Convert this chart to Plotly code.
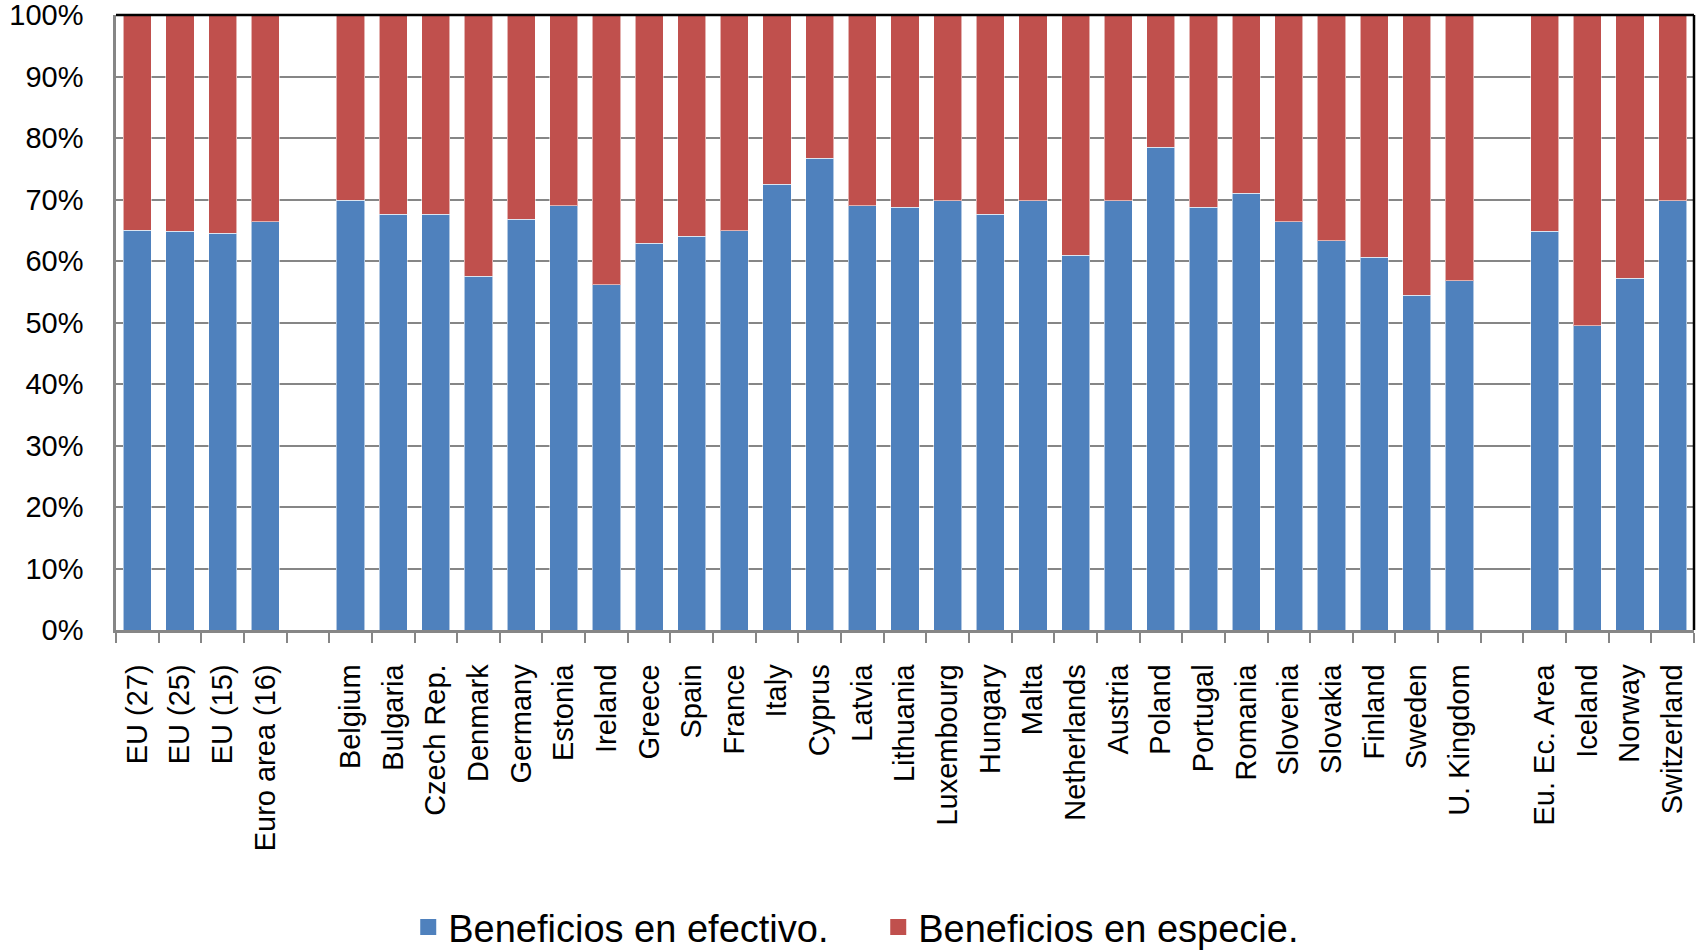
import plotly.graph_objects as go

# Categories (blank entries leave a gap between groups on the axis)
categories = [
    "EU (27)", "EU (25)", "EU (15)", "Euro area (16)", " ",
    "Belgium", "Bulgaria", "Czech Rep.", "Denmark", "Germany", "Estonia",
    "Ireland", "Greece", "Spain", "France", "Italy", "Cyprus", "Latvia",
    "Lithuania", "Luxembourg", "Hungary", "Malta", "Netherlands", "Austria",
    "Poland", "Portugal", "Romania", "Slovenia", "Slovakia", "Finland",
    "Sweden", "U. Kingdom", "  ",
    "Eu. Ec. Area", "Iceland", "Norway", "Switzerland",
]

# Share of cash benefits (%)
efectivo = [
    65.0, 64.8, 64.5, 66.4, None,
    69.9, 67.6, 67.6, 57.5, 66.8, 69.0,
    56.1, 62.9, 64.0, 64.9, 72.5, 76.7, 69.0,
    68.7, 69.8, 67.6, 69.8, 60.9, 69.8,
    78.5, 68.7, 71.0, 66.4, 63.3, 60.6,
    54.4, 56.8, None,
    64.8, 49.5, 57.2, 69.8,
]

# Share of in-kind benefits (%)
especie = [
    35.0, 35.2, 35.5, 33.6, None,
    30.1, 32.4, 32.4, 42.5, 33.2, 31.0,
    43.9, 37.1, 36.0, 35.1, 27.5, 23.3, 31.0,
    31.3, 30.2, 32.4, 30.2, 39.1, 30.2,
    21.5, 31.3, 29.0, 33.6, 36.7, 39.4,
    45.6, 43.2, None,
    35.2, 50.5, 42.8, 30.2,
]

y_ticks = [0, 10, 20, 30, 40, 50, 60, 70, 80, 90, 100]
y_tick_labels = ["0%", "10%", "20%", "30%", "40%", "50%",
                 "60%", "70%", "80%", "90%", "100%"]

series_names = ["Beneficios en efectivo.", "Beneficios en especie."]

BLUE = "#4F81BD"
RED = "#C0504D"
AXIS_GRAY = "#868686"
FONT = "Liberation Sans, Arial, sans-serif"
EDGE = "rgba(255,255,255,0.55)"

fig = go.Figure()
for values, name, color in [(efectivo, series_names[0], BLUE),
                            (especie, series_names[1], RED)]:
    fig.add_trace(go.Bar(
        x=categories, y=values, name=name, showlegend=False,
        marker=dict(color=color, line=dict(color=EDGE, width=1)),
    ))

# Legend entries with larger square keys
for name, color in [(series_names[0], BLUE), (series_names[1], RED)]:
    fig.add_trace(go.Scatter(
        x=[None], y=[None], mode="markers", name=name,
        marker=dict(symbol="square", size=18, color=color),
    ))

fig.update_layout(
    width=1702, height=950,
    margin=dict(l=116, r=8, t=15, b=320),
    barmode="stack", bargap=0.34,
    plot_bgcolor="white", paper_bgcolor="white",
    font=dict(family=FONT, color="black", size=29),
    legend=dict(
        orientation="h", xref="container", yref="container",
        x=0.516, xanchor="center", y=0.024, yanchor="middle",
        font=dict(size=38, family=FONT, color="black"),
        traceorder="normal", itemwidth=30, entrywidth=425,
    ),
    showlegend=True,
)

fig.update_xaxes(
    type="category", categoryorder="array", categoryarray=categories,
    range=[-0.5, len(categories) - 0.5], automargin=False,
    tickson="boundaries", ticks="outside", ticklen=10, tickwidth=2,
    tickcolor=AXIS_GRAY, showline=True, linecolor=AXIS_GRAY, linewidth=2.5,
    showgrid=False, tickangle=-90, ticklabelstandoff=20,
    tickfont=dict(size=29, family=FONT, color="black"),
)
fig.update_yaxes(
    range=[0, 100], tickmode="array", tickvals=y_ticks, ticktext=y_tick_labels,
    automargin=False,
    showgrid=True, gridcolor=AXIS_GRAY, gridwidth=2,
    showline=True, linecolor=AXIS_GRAY, linewidth=2.5,
    ticks="", ticklabelstandoff=24, ticklabeloverflow="allow", zeroline=False,
    tickfont=dict(size=29, family=FONT, color="black"),
)

# Dark frame on the top and right edges of the plotting area
fig.add_shape(type="line", xref="paper", yref="paper", x0=0, x1=1, y0=1, y1=1,
              line=dict(color="black", width=2.5))
fig.add_shape(type="line", xref="paper", yref="paper", x0=1, x1=1, y0=0, y1=1,
              line=dict(color="black", width=2.5))

fig.write_html("out.html")
